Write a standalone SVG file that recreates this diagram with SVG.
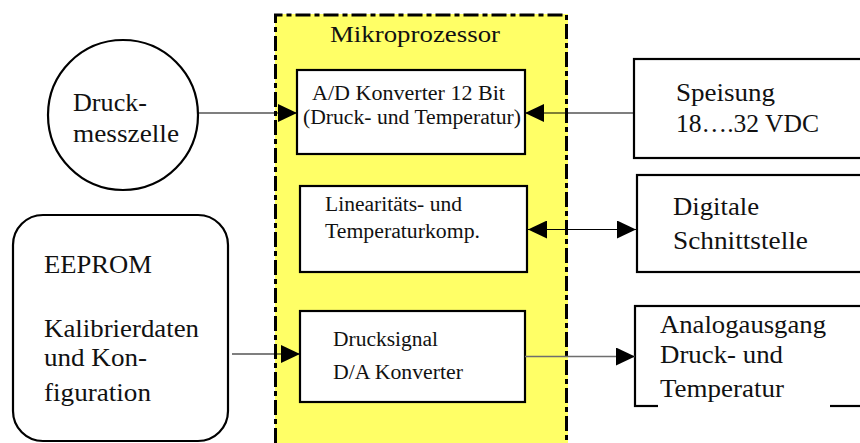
<svg xmlns="http://www.w3.org/2000/svg" width="860" height="443" viewBox="0 0 860 443">
  <style>
    .box { fill: #ffffff; stroke: #000000; stroke-width: 2.2; }
    text { font-family: "Liberation Serif", "Times New Roman", serif; fill: #111111; }
    .big { font-size: 25px; }
    .small { font-size: 20px; }
    .wire { stroke: #000000; stroke-width: 1.2; fill: none; }
    .wire-grey { stroke: #6e6e6e; stroke-width: 1.4; fill: none; }
  </style>
  <defs>
    <marker id="head" markerUnits="userSpaceOnUse" markerWidth="20" markerHeight="20" refX="19" refY="9" orient="auto">
      <path d="M0,0 L19,9 L0,18 Z" fill="#000000"/>
    </marker>
    <marker id="tail" markerUnits="userSpaceOnUse" markerWidth="20" markerHeight="20" refX="0" refY="9" orient="auto">
      <path d="M19,0 L0,9 L19,18 Z" fill="#000000"/>
    </marker>
  </defs>

  <rect width="860" height="443" fill="#ffffff"/>

  <!-- microprocessor area: yellow field with dash-dot outline -->
  <g id="mikroprozessor">
    <rect x="275" y="14" width="293" height="440" fill="#ffff66"/>
    <path d="M275.5,443 L275.5,15 L566.5,15 L566.5,443" fill="none" stroke="#000000" stroke-width="3" stroke-dasharray="15 4 5 4"/>
    <text x="330" y="42" font-size="24" textLength="170" lengthAdjust="spacingAndGlyphs">Mikroprozessor</text>
  </g>

  <g id="ad-konverter">
    <rect class="box" x="297" y="70" width="228" height="84"/>
    <text class="small" x="312" y="100" textLength="193" lengthAdjust="spacingAndGlyphs">A/D Konverter 12 Bit</text>
    <text class="small" x="303" y="124" textLength="218" lengthAdjust="spacingAndGlyphs">(Druck- und Temperatur)</text>
  </g>

  <g id="linearisierung">
    <rect class="box" x="300" y="186" width="227" height="86"/>
    <text class="small" x="325" y="211" textLength="137" lengthAdjust="spacingAndGlyphs">Linearitäts- und</text>
    <text class="small" x="325" y="238" textLength="155" lengthAdjust="spacingAndGlyphs">Temperaturkomp.</text>
  </g>

  <g id="da-konverter">
    <rect class="box" x="300" y="311" width="225" height="91"/>
    <text class="small" x="333" y="346" textLength="105" lengthAdjust="spacingAndGlyphs">Drucksignal</text>
    <text class="small" x="333" y="379" textLength="130" lengthAdjust="spacingAndGlyphs">D/A Konverter</text>
  </g>

  <!-- peripherals -->
  <g id="druckmesszelle">
    <circle cx="123" cy="115" r="75" fill="#ffffff" stroke="#000000" stroke-width="2.2"/>
    <text class="big" x="73" y="111" textLength="74" lengthAdjust="spacingAndGlyphs">Druck-</text>
    <text class="big" x="73" y="142" textLength="106" lengthAdjust="spacingAndGlyphs">messzelle</text>
  </g>

  <g id="eeprom">
    <rect class="box" x="13" y="215" width="215" height="226" rx="30" ry="30"/>
    <text class="big" x="44" y="273" textLength="108" lengthAdjust="spacingAndGlyphs">EEPROM</text>
    <text class="big" x="44" y="337" textLength="155" lengthAdjust="spacingAndGlyphs">Kalibrierdaten</text>
    <text class="big" x="44" y="366" textLength="103" lengthAdjust="spacingAndGlyphs">und Kon-</text>
    <text class="big" x="44" y="401" textLength="107" lengthAdjust="spacingAndGlyphs">figuration</text>
  </g>

  <g id="speisung">
    <rect class="box" x="634" y="59" width="250" height="99"/>
    <text class="big" x="676" y="101" textLength="99" lengthAdjust="spacingAndGlyphs">Speisung</text>
    <text class="big" x="676" y="132" textLength="143" lengthAdjust="spacingAndGlyphs">18….32 VDC</text>
  </g>

  <g id="schnittstelle">
    <rect class="box" x="637" y="175" width="250" height="97"/>
    <text class="big" x="673" y="215" textLength="86" lengthAdjust="spacingAndGlyphs">Digitale</text>
    <text class="big" x="673" y="249" textLength="135" lengthAdjust="spacingAndGlyphs">Schnittstelle</text>
  </g>

  <g id="analogausgang">
    <rect class="box" x="635" y="306" width="250" height="100"/>
    <!-- white text backing that interrupts the lower border -->
    <rect x="658" y="402" width="172" height="6" fill="#ffffff"/>
    <text class="big" x="660" y="333" textLength="166" lengthAdjust="spacingAndGlyphs">Analogausgang</text>
    <text class="big" x="660" y="363" textLength="123" lengthAdjust="spacingAndGlyphs">Druck- und</text>
    <text class="big" x="660" y="397" textLength="124" lengthAdjust="spacingAndGlyphs">Temperatur</text>
  </g>

  <!-- connectors -->
  <g id="connectors">
    <line class="wire" x1="198" y1="113" x2="297" y2="113" marker-end="url(#head)"/>
    <line class="wire" x1="634" y1="113" x2="525" y2="113" marker-end="url(#head)"/>
    <line class="wire" x1="528" y1="229.5" x2="636" y2="229.5" marker-start="url(#tail)" marker-end="url(#head)"/>
    <line class="wire" x1="232" y1="354" x2="300" y2="354" marker-end="url(#head)"/>
    <line class="wire-grey" x1="525" y1="356.5" x2="635" y2="356.5" marker-end="url(#head)"/>
  </g>
</svg>
